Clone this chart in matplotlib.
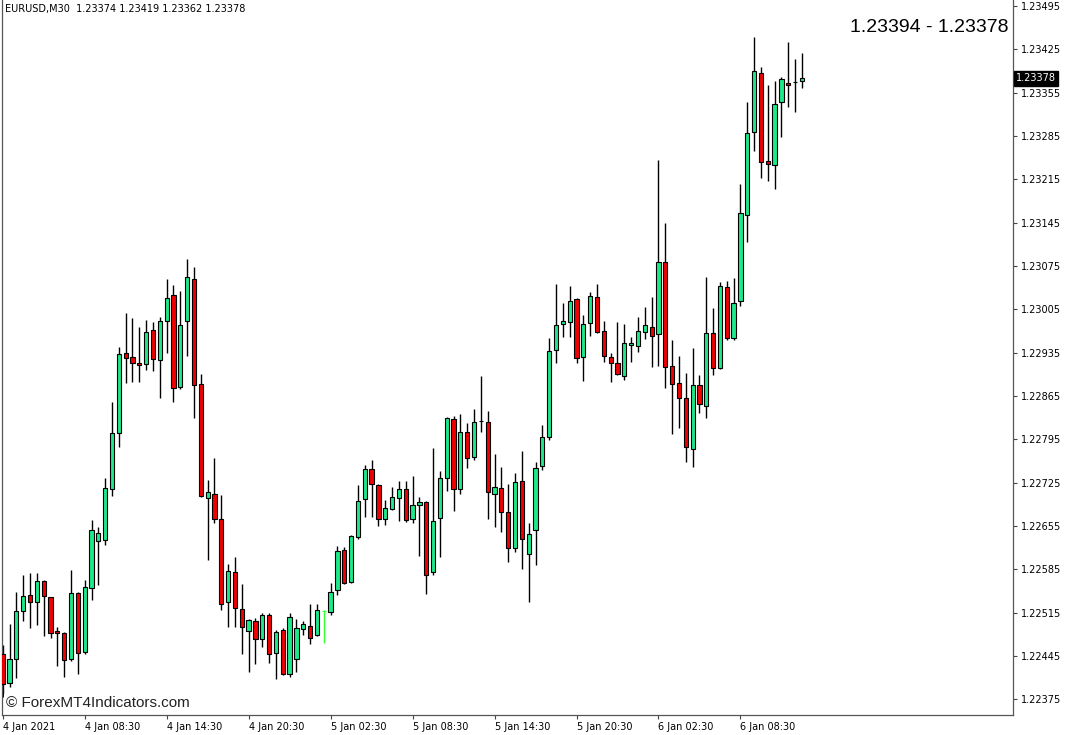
import numpy as np
import matplotlib
matplotlib.use('Agg')
import matplotlib.pyplot as plt
import matplotlib.transforms as mtransforms

# EURUSD M30 candles (oldest first)
opens = [1.22448, 1.22401, 1.22440, 1.22518, 1.22544, 1.22532, 1.22566, 1.22540, 1.22485, 1.22482,
         1.22440, 1.22547, 1.22451, 1.22555, 1.22631, 1.22632, 1.22715, 1.22805, 1.22934, 1.22928,
         1.22918, 1.22917, 1.22972, 1.22923, 1.22986, 1.23028, 1.22880, 1.22986, 1.23054, 1.22884,
         1.22700, 1.22707, 1.22666, 1.22532, 1.22581, 1.22521, 1.22485, 1.22502, 1.22472, 1.22511,
         1.22450, 1.22487, 1.22416, 1.22440, 1.22489, 1.22493, 1.22479, 1.22518, 1.22516, 1.22552,
         1.22616, 1.22565, 1.22637, 1.22699, 1.22747, 1.22721, 1.22666, 1.22682, 1.22700, 1.22715,
         1.22666, 1.22689, 1.22694, 1.22581, 1.22668, 1.22733, 1.22828, 1.22715, 1.22807, 1.22766,
         1.22825, 1.22823, 1.22707, 1.22716, 1.22678, 1.22619, 1.22728, 1.22610, 1.22649, 1.22752,
         1.22799, 1.22939, 1.22981, 1.22985, 1.23022, 1.22928, 1.22983, 1.23025, 1.22970, 1.22928,
         1.22918, 1.22897, 1.22947, 1.22946, 1.22968, 1.22976, 1.22965, 1.23081, 1.22913, 1.22886,
         1.22862, 1.22779, 1.22883, 1.22849, 1.22967, 1.22910, 1.23041, 1.22959, 1.23018, 1.23157,
         1.23291, 1.23387, 1.23245, 1.23238, 1.23340, 1.23371, 1.23372, 1.23374]
highs = [1.22463, 1.22497, 1.22548, 1.22576, 1.22579, 1.22579, 1.22567, 1.22541, 1.22492, 1.22483,
         1.22584, 1.22548, 1.22568, 1.22665, 1.22653, 1.22733, 1.22855, 1.22944, 1.22999, 1.22991,
         1.22976, 1.22988, 1.22985, 1.22993, 1.23054, 1.23044, 1.23035, 1.23086, 1.23073, 1.22901,
         1.22729, 1.22765, 1.22705, 1.22594, 1.22605, 1.22561, 1.22504, 1.22506, 1.22514, 1.22514,
         1.22487, 1.22490, 1.22514, 1.22505, 1.22502, 1.22529, 1.22529, 1.22519, 1.22563, 1.22623,
         1.22621, 1.22640, 1.22721, 1.22754, 1.22762, 1.22722, 1.22697, 1.22718, 1.22728, 1.22728,
         1.22736, 1.22702, 1.22695, 1.22781, 1.22744, 1.22831, 1.22833, 1.22836, 1.22821, 1.22844,
         1.22897, 1.22841, 1.22771, 1.22750, 1.22723, 1.22741, 1.22776, 1.22660, 1.22758, 1.22818,
         1.22959, 1.23046, 1.23015, 1.23043, 1.23023, 1.22996, 1.23033, 1.23046, 1.22986, 1.22934,
         1.22985, 1.22981, 1.22960, 1.22993, 1.23009, 1.23025, 1.23246, 1.23144, 1.22955, 1.22930,
         1.22902, 1.22943, 1.22899, 1.23057, 1.23007, 1.23049, 1.23051, 1.23056, 1.23207, 1.23340,
         1.23445, 1.23396, 1.23367, 1.23374, 1.23380, 1.23437, 1.23409, 1.23419]
lows = [1.22379, 1.22395, 1.22409, 1.22502, 1.22490, 1.22495, 1.22477, 1.22474, 1.22429, 1.22411,
        1.22437, 1.22416, 1.22448, 1.22535, 1.22560, 1.22624, 1.22703, 1.22783, 1.22886, 1.22888,
        1.22888, 1.22907, 1.22905, 1.22862, 1.22934, 1.22855, 1.22876, 1.22930, 1.22829, 1.22702,
        1.22600, 1.22660, 1.22519, 1.22492, 1.22492, 1.22448, 1.22419, 1.22432, 1.22460, 1.22434,
        1.22408, 1.22414, 1.22411, 1.22419, 1.22479, 1.22464, 1.22477, 1.22466, 1.22511, 1.22544,
        1.22561, 1.22563, 1.22634, 1.22670, 1.22670, 1.22655, 1.22657, 1.22681, 1.22663, 1.22661,
        1.22660, 1.22607, 1.22545, 1.22576, 1.22605, 1.22712, 1.22679, 1.22707, 1.22749, 1.22762,
        1.22807, 1.22666, 1.22653, 1.22645, 1.22597, 1.22613, 1.22586, 1.22532, 1.22592, 1.22745,
        1.22794, 1.22918, 1.22960, 1.22960, 1.22918, 1.22889, 1.22962, 1.22967, 1.22920, 1.22888,
        1.22899, 1.22891, 1.22920, 1.22936, 1.22957, 1.22912, 1.22913, 1.22878, 1.22804, 1.22813,
        1.22758, 1.22750, 1.22838, 1.22829, 1.22899, 1.22909, 1.22955, 1.22955, 1.23010, 1.23114,
        1.23261, 1.23217, 1.23212, 1.23199, 1.23283, 1.23332, 1.23324, 1.23362]
closes = [1.22400, 1.22440, 1.22518, 1.22542, 1.22532, 1.22566, 1.22542, 1.22482, 1.22482, 1.22439,
          1.22547, 1.22450, 1.22556, 1.22649, 1.22644, 1.22716, 1.22805, 1.22933, 1.22926, 1.22918,
          1.22915, 1.22968, 1.22925, 1.22986, 1.23023, 1.22878, 1.22980, 1.23057, 1.22883, 1.22703,
          1.22710, 1.22666, 1.22529, 1.22582, 1.22523, 1.22492, 1.22503, 1.22472, 1.22511, 1.22448,
          1.22484, 1.22416, 1.22508, 1.22490, 1.22497, 1.22474, 1.22519, 1.22518, 1.22548, 1.22615,
          1.22563, 1.22639, 1.22695, 1.22747, 1.22723, 1.22666, 1.22684, 1.22702, 1.22715, 1.22665,
          1.22689, 1.22694, 1.22576, 1.22663, 1.22733, 1.22830, 1.22715, 1.22807, 1.22765, 1.22823,
          1.22825, 1.22710, 1.22718, 1.22678, 1.22619, 1.22726, 1.22634, 1.22642, 1.22749, 1.22799,
          1.22938, 1.22980, 1.22986, 1.23018, 1.22926, 1.22981, 1.23027, 1.22968, 1.22930, 1.22918,
          1.22901, 1.22951, 1.22951, 1.22970, 1.22980, 1.22962, 1.23081, 1.22912, 1.22884, 1.22862,
          1.22783, 1.22883, 1.22852, 1.22967, 1.22910, 1.23043, 1.22959, 1.23015, 1.23161, 1.23290,
          1.23390, 1.23243, 1.23240, 1.23337, 1.23377, 1.23367, 1.23372, 1.23378]

time_labels = ['4 Jan 2021', '4 Jan 08:30', '4 Jan 14:30', '4 Jan 20:30', '5 Jan 02:30',
               '5 Jan 08:30', '5 Jan 14:30', '5 Jan 20:30', '6 Jan 02:30', '6 Jan 08:30']
label_every = 12
price_ticks = [1.22375, 1.22445, 1.22515, 1.22585, 1.22655, 1.22725, 1.22795, 1.22865, 1.22935,
               1.23005, 1.23075, 1.23145, 1.23215, 1.23285, 1.23355, 1.23425, 1.23495]
header = 'EURUSD,M30  1.23374 1.23419 1.23362 1.23378'
range_text = '1.23394 - 1.23378'
last_price = 1.23378

bull = '#1de98b'
bear = '#f00000'
doji_line = {47: '#33ff33'}

o = np.array(opens)
h = np.array(highs)
l = np.array(lows)
c = np.array(closes)
x = np.arange(len(o))

fig = plt.figure(figsize=(10.68, 7.35), dpi=100)
ax = fig.add_axes([1.7 / 1068, 1 - 715 / 735, (1013 - 1.7) / 1068, 715 / 735])
ax.set_facecolor('white')

wick_cols = [doji_line.get(i, 'black') for i in x]
ax.vlines(x, l, h, colors=wick_cols, linewidth=1, zorder=2)
face = [bull if cc > oo else bear for oo, cc in zip(o, c)]
edge = [doji_line.get(i, 'black') for i in x]
ax.bar(x, np.abs(c - o), bottom=np.minimum(o, c), width=0.62, color=face,
       edgecolor=edge, linewidth=0.8, zorder=3)

ax.set_xlim(-0.146, 147.9)
ax.set_ylim(1.223496, 1.235047)

ax.yaxis.tick_right()
ax.set_yticks(price_ticks)
ax.set_yticklabels(['%.5f' % p for p in price_ticks])
ax.tick_params(axis='y', direction='out', length=3, width=0.8, pad=3, labelsize=7,
               colors='#444444', labelcolor='black')
ax.set_xticks(x[::label_every][:len(time_labels)])
ax.set_xticklabels(time_labels, ha='left')
ax.tick_params(axis='x', direction='out', length=3, width=0.8, pad=2, labelsize=7,
               colors='#444444', labelcolor='black')

ax.spines['top'].set_visible(False)
for s in ['left', 'right', 'bottom']:
    ax.spines[s].set_color('#555555')
    ax.spines[s].set_linewidth(0.9)

ax.text(3 / 1011, 0.987, header, transform=ax.transAxes, fontsize=7, ha='left', va='center',
        color='black')
ax.text(0.9955, 0.962, range_text, transform=ax.transAxes, fontsize=14, ha='right',
        va='center', family='Liberation Sans', color='black')
ax.text(0.004, 0.017, '\u00a9 ForexMT4Indicators.com', transform=ax.transAxes, fontsize=11,
        ha='left', va='center', family='Liberation Sans', color='#222222',
        bbox=dict(facecolor='white', edgecolor='none', pad=1.5), zorder=5)

trans = mtransforms.blended_transform_factory(ax.transAxes, ax.transData)
ax.text(1.003, last_price, '%.5f' % last_price, transform=trans, fontsize=7, ha='left',
        va='center', color='white', clip_on=False,
        bbox=dict(facecolor='black', edgecolor='black', boxstyle='square,pad=0.25'))

fig.savefig('out.png', dpi=100, facecolor='white')
